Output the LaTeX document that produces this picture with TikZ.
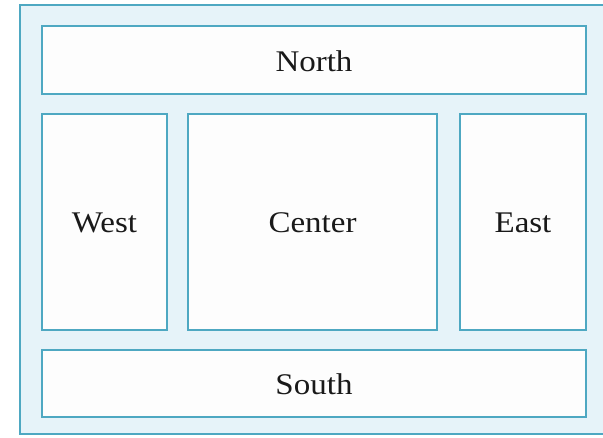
\documentclass[tikz,border=0pt]{standalone}
\usepackage{fontspec}
\setmainfont[FakeStretch=1.1]{Liberation Serif}
\definecolor{edge}{RGB}{78,168,194}
\definecolor{outerfill}{RGB}{230,243,249}
\definecolor{innerfill}{RGB}{253,253,253}
\begin{document}
\begin{tikzpicture}[x=1pt,y=-1pt,
  region/.style={draw=edge,line width=2pt,fill=innerfill},
  lbl/.style={font=\fontsize{30}{36}\selectfont,text=black!90,yshift=-1pt}]
\useasboundingbox (0,0) rectangle (603,437);
\fill[white] (0,0) rectangle (603,437);
\draw[draw=edge,line width=2pt,fill=outerfill] (20,5) rectangle (606,434);
\draw[region] (42,26) rectangle (586,94) node[midway,lbl] (north) {North};
\draw[region] (42,114) rectangle (167,330) node[midway,lbl] (west) {West};
\draw[region] (188,114) rectangle (437,330) node[midway,lbl] (center) {Center};
\draw[region] (460,114) rectangle (586,330) node[midway,lbl] (east) {East};
\draw[region] (42,350) rectangle (586,417) node[midway,lbl] (south) {South};
\end{tikzpicture}
\end{document}
